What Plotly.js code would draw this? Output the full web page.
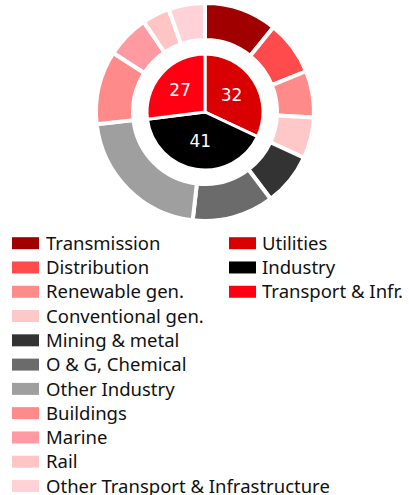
<!DOCTYPE html>
<html>
<head>
<meta charset="utf-8">
<script src="https://cdn.plot.ly/plotly-3.0.1.min.js"></script>
<style>html,body{margin:0;padding:0;background:#fff;}#chart{width:409px;height:495px;}</style>
</head>
<body>
<div id="chart"></div>
<script>
// Outer ring: sub-segments (percent of total)
const segmentLabels = ["Transmission", "Distribution", "Renewable gen.", "Conventional gen.",
  "Mining & metal", "O & G, Chemical", "Other Industry",
  "Buildings", "Marine", "Rail", "Other Transport & Infrastructure"];
const segmentValues = [10.8, 8.1, 6.9, 6.1, 7.8, 12.1, 21.4, 10.9, 6.4, 4.1, 5.4];
const segmentColors = ["#a00000", "#ff4b4b", "#ff8a8a", "#ffc8c8",
  "#333333", "#6b6b6b", "#9f9f9f",
  "#ff8a8a", "#ff9aa2", "#ffc5c5", "#ffd2d7"];

// Inner pie: main customer groups
const groupLabels = ["Utilities", "Industry", "Transport & Infr."];
const groupValues = [32, 41, 27];
const groupColors = ["#d80000", "#000000", "#ff0012"];

const W = 409, H = 495;
const px = x => x / W;
const py = y => 1 - y / H;

const cx = 205, cy = 112, rOuter = 109, rInner = 58, rHole = 72;

const outer = {
  type: "pie", values: segmentValues, labels: segmentLabels,
  marker: {colors: segmentColors, line: {color: "#ffffff", width: 4}},
  sort: false, direction: "clockwise", rotation: 0,
  hole: rHole / rOuter, textinfo: "none", hoverinfo: "none",
  domain: {x: [px(cx - rOuter), px(cx + rOuter)], y: [py(cy + rOuter), py(cy - rOuter)]},
  showlegend: false
};
const inner = {
  type: "pie", values: groupValues, labels: groupLabels,
  marker: {colors: groupColors, line: {color: "#ffffff", width: 3}},
  sort: false, direction: "clockwise", rotation: 0,
  textinfo: "value", textposition: "inside", insidetextorientation: "horizontal",
  textfont: {family: "DejaVu Sans", size: 17, color: "#ffffff"},
  hoverinfo: "none",
  domain: {x: [px(cx - rInner), px(cx + rInner)], y: [py(cy + rInner), py(cy - rInner)]},
  showlegend: false
};

// Custom legend (two columns)
const shapes = [], annotations = [];
const rowY0 = 243.2, rowStep = 24.28;
function addItem(sx, tx, row, color, label) {
  const yc = rowY0 + row * rowStep;
  shapes.push({type: "rect", xref: "paper", yref: "paper",
    x0: px(sx), x1: px(sx + 27), y0: py(yc + 6), y1: py(yc - 6),
    fillcolor: color, line: {width: 0}});
  annotations.push({xref: "paper", yref: "paper", x: px(tx), y: py(yc - 0.8),
    xanchor: "left", yanchor: "middle", showarrow: false, text: label,
    font: {family: "Noto Sans", size: 18.5, color: "#111111"}});
}
segmentLabels.forEach((l, i) => addItem(12, 44, i, segmentColors[i], l));
groupLabels.forEach((l, i) => addItem(229, 260, i, groupColors[i], l));

const layout = {
  width: W, height: H, autosize: false,
  margin: {l: 0, r: 0, t: 0, b: 0},
  paper_bgcolor: "#ffffff", plot_bgcolor: "#ffffff",
  showlegend: false, shapes: shapes, annotations: annotations
};
Plotly.newPlot("chart", [outer, inner], layout, {displayModeBar: false, staticPlot: true});
</script>
</body>
</html>
